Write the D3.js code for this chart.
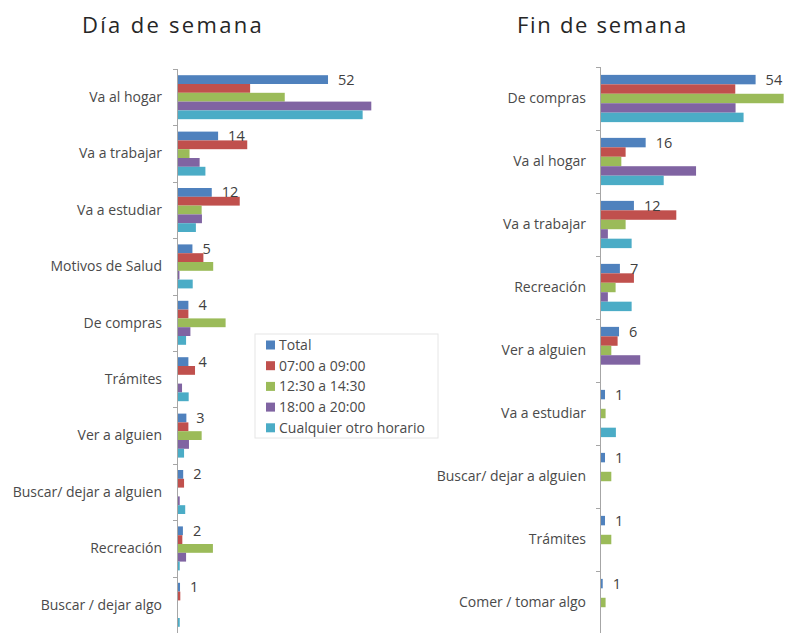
<!DOCTYPE html>
<html>
<head>
<meta charset="utf-8">
<script src="https://cdnjs.cloudflare.com/ajax/libs/d3/7.8.5/d3.min.js"></script>
<style>
  body { margin: 0; background: #fff; }
  svg { display: block; font-family: "Open Sans", Lato, sans-serif; }
</style>
</head>
<body>
<div class="chart"></div>
<script>
// series shared by both panels
const series = ["Total", "07:00 a 09:00", "12:30 a 14:30", "18:00 a 20:00", "Cualquier otro horario"]
const colors = ["#4f81bd", "#c0504d", "#9bbb59", "#8064a2", "#4bacc6"]

// Día de semana
const catsWeek = ["Va al hogar", "Va a trabajar", "Va a estudiar", "Motivos de Salud", "De compras",
    "Trámites", "Ver a alguien", "Buscar/ dejar a alguien", "Recreación", "Buscar / dejar algo"]
const totalWeek = [52, 13.9, 11.7, 5.0, 3.6, 3.6, 2.9, 1.8, 1.7, 0.7]
const amWeek    = [25, 24, 21.4, 8.8, 3.6, 5.9, 3.6, 2.1, 1.5, 0.8]
const midWeek   = [37, 4, 8.2, 12.2, 16.5, 0, 8.2, 0, 12.1, 0]
const pmWeek    = [67, 7.5, 8.3, 0.5, 4.3, 1.4, 3.8, 0.6, 2.8, 0]
const otherWeek = [64, 9.5, 6.2, 5.1, 2.8, 3.7, 2.1, 2.5, 0.6, 0.6]

// Fin de semana
const catsEnd = ["De compras", "Va al hogar", "Va a trabajar", "Recreación", "Ver a alguien",
    "Va a estudiar", "Buscar/ dejar a alguien", "Trámites", "Comer / tomar algo"]
const totalEnd = [54, 15.6, 11.5, 6.6, 6.3, 1.4, 1.4, 1.4, 0.6]
const amEnd    = [46.9, 8.6, 26.3, 11.5, 5.8, 0, 0, 0, 0]
const midEnd   = [63.8, 7.1, 8.6, 5.1, 3.6, 1.6, 3.6, 3.6, 1.6]
const pmEnd    = [47, 33.2, 2.4, 2.4, 13.7, 0, 0, 0, 0]
const otherEnd = [49.8, 21.9, 10.7, 10.7, 0, 5.2, 0, 0, 0]

const width = 785
const height = 633
const fmt = d3.format(".0f")

const svg = d3.select(".chart").append("svg")
    .attr("width", width)
    .attr("height", height)

function panel(opts) {
    const rows = opts.cats.map((c, i) => ({
        cat: c,
        values: opts.values.map(v => v[i])
    }))

    const y = d3.scaleBand()
        .domain(opts.cats)
        .range([opts.top, opts.top + opts.step * opts.cats.length])

    const x = d3.scaleLinear()
        .domain([0, 70])
        .range([opts.left, opts.left + 70 * opts.unit])

    const pad = y.bandwidth() * opts.pad
    const ySub = d3.scaleBand()
        .domain(series)
        .range([pad, y.bandwidth() - pad])

    const g = svg.append("g")

    // title
    g.append("text")
        .attr("x", opts.titleX)
        .attr("y", 33)
        .attr("fill", "#262626")
        .style("font-size", "22px")
        .style("letter-spacing", opts.titleSpacing)
        .text(opts.title)

    // bars
    const group = g.selectAll(".cat")
        .data(rows)
        .join("g")
        .attr("class", "cat")
        .attr("transform", d => `translate(0,${y(d.cat)})`)

    group.selectAll("rect")
        .data(d => d.values.map((v, j) => ({ s: series[j], v: v, c: colors[j] })))
        .join("rect")
        .attr("x", x(0))
        .attr("y", d => ySub(d.s))
        .attr("width", d => x(d.v) - x(0))
        .attr("height", ySub.bandwidth())
        .attr("fill", d => d.c)

    // total labels
    group.append("text")
        .attr("x", d => x(d.values[0]) + 10)
        .attr("y", ySub("Total") + ySub.bandwidth() / 2)
        .attr("dy", "0.35em")
        .attr("fill", "#404040")
        .style("font-size", "14.5px")
        .text(d => fmt(d.values[0]))

    // category labels
    group.append("text")
        .attr("x", x(0) - opts.labelGap)
        .attr("y", y.bandwidth() / 2)
        .attr("dy", "0.35em")
        .attr("text-anchor", "end")
        .attr("fill", "#4a4a4a")
        .style("font-size", "14px")
        .text(d => d.cat)

    // axis with ticks on category boundaries
    const axis = g.append("g").attr("stroke", "#a6a6a6")
    axis.append("line")
        .attr("x1", x(0) - 0.5).attr("x2", x(0) - 0.5)
        .attr("y1", opts.top).attr("y2", height + 20)
    axis.selectAll(".tick")
        .data(opts.cats)
        .join("line")
        .attr("class", "tick")
        .attr("x1", x(0) - 5).attr("x2", x(0))
        .attr("y1", d => Math.round(y(d)) + 0.5)
        .attr("y2", d => Math.round(y(d)) + 0.5)
}

panel({
    title: "Día de semana", titleX: 82, titleSpacing: "2.3px",
    cats: catsWeek,
    values: [totalWeek, amWeek, midWeek, pmWeek, otherWeek],
    top: 69, step: 56.4, left: 178, unit: 2.885, pad: 0.11, labelGap: 16
})

panel({
    title: "Fin de semana", titleX: 517, titleSpacing: "1.7px",
    cats: catsEnd,
    values: [totalEnd, amEnd, midEnd, pmEnd, otherEnd],
    top: 67, step: 63, left: 601, unit: 2.863, pad: 0.125, labelGap: 15
})

// legend
const legend = svg.append("g").attr("transform", "translate(255,334)")
legend.append("rect")
    .attr("width", 183).attr("height", 104)
    .attr("fill", "#fff")
    .attr("stroke", "#e6e6e6")

const item = legend.selectAll(".item")
    .data(series)
    .join("g")
    .attr("class", "item")
    .attr("transform", (d, i) => `translate(11,${11 + i * 20.7})`)

item.append("rect")
    .attr("y", -4.5)
    .attr("width", 9).attr("height", 9)
    .attr("fill", (d, i) => colors[i])

item.append("text")
    .attr("x", 13)
    .attr("dy", "0.35em")
    .attr("fill", "#4a4a4a")
    .style("font-size", "14px")
    .text(d => d)
</script>
</body>
</html>
